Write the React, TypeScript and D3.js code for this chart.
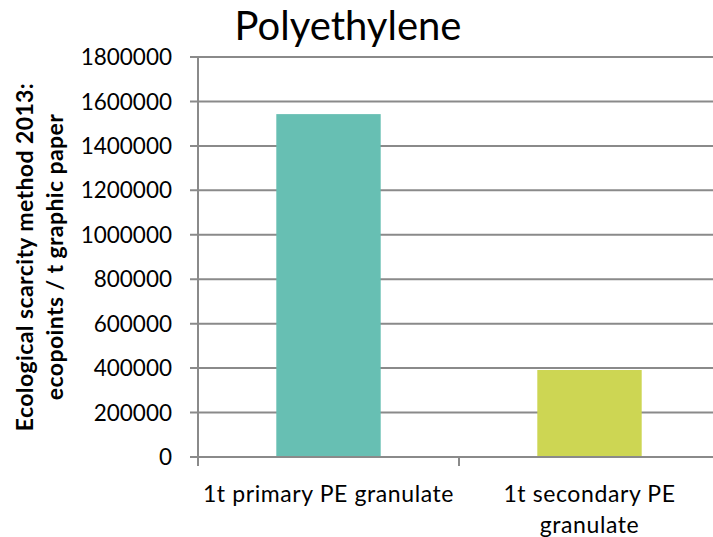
import React from "react";
import * as d3 from "d3";

const title = "Polyethylene";
const categories = ["1t primary PE granulate", "1t secondary PE\ngranulate"];
const values = [1543000, 391500];
const barColors = ["#67BFB3", "#CDD653"];
const yTicks = [0, 200000, 400000, 600000, 800000, 1000000, 1200000, 1400000, 1600000, 1800000];
const yTitleLines = ["Ecological scarcity method 2013:", "ecopoints / t graphic paper"];

const W = 713;
const H = 537;
const FONT = "Lato, 'Open Sans', sans-serif";

export default function App() {
  const plotLeft = 198;
  const plotRight = 720;
  const plotTop = 57;
  const plotBottom = 457;

  const x = d3.scaleBand<string>().domain(categories).range([plotLeft, plotRight]).padding(0);
  const y = d3.scaleLinear().domain([0, 1800000]).range([plotBottom, plotTop]);
  const bw = x.bandwidth();
  const barFrac = 0.4;
  const grid = "#8a8a8a";

  const xTickPositions = [plotLeft, ...categories.map((c) => (x(c) as number) + bw)];

  return (
    <svg
      width={W}
      height={H}
      style={{ position: "absolute", left: 0, top: 0, background: "#fff" }}
      fontFamily={FONT}
    >
      <rect x={0} y={0} width={W} height={H} fill="#fff" />
      {yTicks.map((t) => (
        <line key={"g" + t} x1={plotLeft - 8} x2={plotRight} y1={y(t)} y2={y(t)} stroke={grid} strokeWidth={2} />
      ))}
      {categories.map((c, i) => (
        <rect
          key={c}
          x={(x(c) as number) + (bw * (1 - barFrac)) / 2}
          width={bw * barFrac}
          y={y(values[i])}
          height={y(0) - y(values[i])}
          fill={barColors[i]}
        />
      ))}
      <line x1={plotLeft} x2={plotLeft} y1={plotTop} y2={plotBottom + 9} stroke={grid} strokeWidth={2} />
      <line x1={plotLeft - 8} x2={plotRight} y1={plotBottom} y2={plotBottom} stroke={grid} strokeWidth={2} />
      {xTickPositions.map((p, i) => (
        <line key={"xt" + i} x1={p} x2={p} y1={plotBottom} y2={plotBottom + 9} stroke={grid} strokeWidth={2} />
      ))}
      {yTicks.map((t) => (
        <text key={"l" + t} x={172} y={y(t)} dy="0.36em" textAnchor="end" fontSize={22.5} fill="#000">
          {d3.format("d")(t)}
        </text>
      ))}
      {categories.map((c) => (
        <text key={"c" + c} textAnchor="middle" fontSize={23} letterSpacing={0.6} fill="#000">
          {c.split("\n").map((line, j) => (
            <tspan key={j} x={(x(c) as number) + bw / 2} y={502 + j * 31}>
              {line}
            </tspan>
          ))}
        </text>
      ))}
      {yTitleLines.map((line, i) => (
        <text
          key={"yt" + i}
          transform={`translate(${33 + i * 30},${(plotTop + plotBottom) / 2}) rotate(-90)`}
          textAnchor="middle"
          fontSize={23}
          letterSpacing={0.4}
          fontWeight="bold"
          fill="#000"
        >
          {line}
        </text>
      ))}
      <text x={348} y={40} textAnchor="middle" fontSize={40} fill="#000">
        {title}
      </text>
    </svg>
  );
}
